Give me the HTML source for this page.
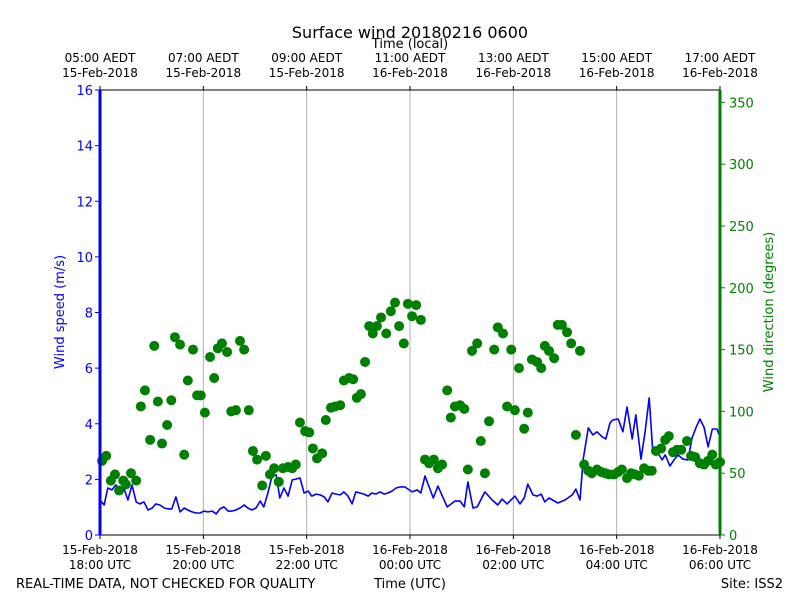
<!DOCTYPE html>
<html><head><meta charset="utf-8"><style>
body{margin:0;background:#fff}
svg{display:block;font-family:"DejaVu Sans","Liberation Sans",sans-serif}
</style></head><body>
<svg id="chart" width="800" height="600" xmlns="http://www.w3.org/2000/svg">
<rect width="800" height="600" fill="#fff"/>
<text x="410" y="38" font-size="16" text-anchor="middle">Surface wind 20180216 0600</text>
<text x="410" y="48" font-size="13" text-anchor="middle">Time (local)</text>
<text x="410" y="588" font-size="13" text-anchor="middle">Time (UTC)</text>
<text x="16" y="588" font-size="13">REAL-TIME DATA, NOT CHECKED FOR QUALITY</text>
<text x="783" y="588" font-size="13" text-anchor="end">Site: ISS2</text>
<text transform="translate(64,312) rotate(-90)" font-size="13" fill="#0000ff" text-anchor="middle">Wind speed (m/s)</text>
<text transform="translate(773,312) rotate(-90)" font-size="13" fill="#008000" text-anchor="middle">Wind direction (degrees)</text>
<g id="grid"></g><g id="marks"></g><g id="axes"></g>
</svg>
<script>
const bottomTicks=[["15-Feb-2018","18:00 UTC"],["15-Feb-2018","20:00 UTC"],["15-Feb-2018","22:00 UTC"],["16-Feb-2018","00:00 UTC"],["16-Feb-2018","02:00 UTC"],["16-Feb-2018","04:00 UTC"],["16-Feb-2018","06:00 UTC"]];
const topTicks=["05:00 AEDT","07:00 AEDT","09:00 AEDT","11:00 AEDT","13:00 AEDT","15:00 AEDT","17:00 AEDT"];
const speedTicks=[0,2,4,6,8,10,12,14,16];
const dirTicks=[0,50,100,150,200,250,300,350];
const speedHours=[0,0.08,0.15,0.23,0.31,0.39,0.46,0.54,0.62,0.70,0.77,0.85,0.93,1.01,1.08,1.16,1.24,1.32,1.39,1.47,1.55,1.63,1.70,1.78,1.86,1.94,2.01,2.09,2.17,2.25,2.32,2.40,2.48,2.55,2.63,2.71,2.79,2.86,2.94,3.02,3.10,3.17,3.25,3.33,3.41,3.48,3.56,3.64,3.72,3.79,3.87,3.95,4.03,4.10,4.18,4.26,4.34,4.41,4.49,4.57,4.65,4.72,4.80,4.88,4.95,5.03,5.11,5.19,5.26,5.34,5.42,5.50,5.57,5.65,5.73,5.81,5.90,6.04,6.14,6.21,6.29,6.45,6.54,6.72,6.87,6.97,7.05,7.12,7.22,7.30,7.45,7.59,7.70,7.78,7.88,8.03,8.13,8.21,8.28,8.38,8.46,8.54,8.61,8.69,8.86,9.00,9.14,9.21,9.29,9.35,9.45,9.54,9.62,9.72,9.79,9.87,9.93,10.03,10.12,10.20,10.30,10.37,10.47,10.55,10.63,10.70,10.80,10.88,10.94,11.03,11.11,11.19,11.28,11.38,11.46,11.54,11.61,11.69,11.77,11.85,11.94,12.00];
const speedValues=[1.26,1.08,1.69,1.62,1.80,1.55,1.69,1.26,1.80,1.19,1.12,1.19,0.90,0.97,1.12,1.08,0.97,0.94,0.94,1.37,0.83,0.97,0.90,0.83,0.79,0.79,0.86,0.83,0.86,0.76,0.94,1.01,0.86,0.86,0.90,0.97,1.08,0.97,0.90,0.97,1.22,1.01,1.51,2.12,2.16,1.33,1.69,1.40,1.98,2.01,2.05,1.51,1.58,1.40,1.47,1.44,1.37,1.19,1.51,1.47,1.44,1.55,1.40,1.12,1.55,1.51,1.47,1.40,1.51,1.47,1.55,1.47,1.51,1.58,1.69,1.73,1.73,1.55,1.62,1.51,2.12,1.33,1.76,1.01,1.22,1.22,1.01,1.91,0.97,1.01,1.55,1.26,1.08,1.29,1.12,1.40,1.12,1.33,1.83,1.44,1.40,1.47,1.19,1.33,1.15,1.26,1.44,1.65,1.26,2.70,3.85,3.60,3.71,3.53,3.45,4.03,4.14,4.17,3.71,4.60,3.45,4.32,2.73,3.71,4.93,2.99,2.95,2.70,2.88,2.48,2.70,2.88,2.73,2.70,3.49,3.88,4.17,3.88,3.17,3.81,3.81,3.53];
const dirHours=[0.04,0.12,0.21,0.29,0.37,0.45,0.50,0.60,0.70,0.79,0.87,0.97,1.05,1.12,1.20,1.30,1.38,1.45,1.55,1.63,1.70,1.80,1.88,1.95,2.03,2.13,2.21,2.28,2.36,2.46,2.54,2.63,2.71,2.79,2.88,2.96,3.04,3.14,3.21,3.29,3.37,3.46,3.54,3.64,3.72,3.79,3.87,3.97,4.05,4.12,4.20,4.30,4.37,4.47,4.55,4.65,4.72,4.82,4.90,4.97,5.05,5.13,5.21,5.28,5.36,5.44,5.54,5.63,5.71,5.79,5.88,5.96,6.04,6.12,6.21,6.29,6.37,6.46,6.54,6.62,6.72,6.79,6.87,6.97,7.05,7.12,7.20,7.30,7.37,7.45,7.53,7.63,7.70,7.80,7.88,7.96,8.03,8.11,8.21,8.28,8.36,8.46,8.54,8.61,8.69,8.79,8.86,8.94,9.04,9.12,9.21,9.29,9.37,9.45,9.52,9.62,9.70,9.78,9.85,9.95,10.03,10.10,10.20,10.28,10.35,10.43,10.53,10.61,10.68,10.76,10.86,10.94,11.01,11.09,11.17,11.25,11.36,11.44,11.52,11.61,11.69,11.77,11.85,11.92,12.00];
const dirValues=[60,64,44,49,36,44,41,50,44,104,117,77,153,108,74,89,109,160,154,65,125,150,113,113,99,144,127,151,155,148,100,101,157,150,101,68,61,40,64,49,54,43,54,55,54,57,91,84,83,70,62,66,93,103,104,105,125,127,126,111,114,140,169,163,169,176,163,181,188,169,155,187,177,186,174,61,58,61,54,57,117,95,104,105,102,53,149,155,76,50,92,150,168,163,104,150,101,135,86,99,142,140,135,153,149,143,170,170,164,155,81,149,57,52,50,53,51,50,49,49,51,53,46,50,49,48,54,52,52,68,70,77,80,67,69,69,76,64,63,58,57,60,65,57,59];

const L=100,R=720,T=90,B=535;
const xS=h=>L+(R-L)*h/12;
const ySpd=v=>B-(B-T)*v/16;
const yDir=d=>B-(B-T)*d/360;
const NS="http://www.w3.org/2000/svg";
function mk(tag,attrs,parent,txt){const e=document.createElementNS(NS,tag);for(const k in attrs)e.setAttribute(k,attrs[k]);if(txt!==undefined)e.textContent=txt;parent.appendChild(e);return e;}
const grid=document.getElementById('grid'),marks=document.getElementById('marks'),axes=document.getElementById('axes');

bottomTicks.forEach((t,i)=>{
  const x=xS(i*2);
  if(i>0&&i<6){const g=mk('line',{x1:x,x2:x,y1:T,y2:B,stroke:'#b0b0b0','stroke-width':1},grid);
  
  }
  const tk=mk('line',{x1:x,x2:x,y1:B,y2:B+4,stroke:'#000'},axes);
  
  
  const lb=mk('text',{x:x,y:B+19,'font-size':12,'text-anchor':'middle'},axes);
  
  
  mk('tspan',{x:x},lb,t[0]);mk('tspan',{x:x,dy:15},lb,t[1]);
  const tt=mk('line',{x1:x,x2:x,y1:T,y2:T-4,stroke:'#000'},axes);
  
  
  const tl=mk('text',{x:x,y:T-28,'font-size':12,'text-anchor':'middle'},axes);
  
  
  mk('tspan',{x:x},tl,topTicks[i]);mk('tspan',{x:x,dy:15},tl,bottomTicks[i][0]);
});

let d='';
speedHours.forEach((h,i)=>{d+=(i?'L':'M')+xS(h).toFixed(1)+','+ySpd(speedValues[i]).toFixed(1);});
const line=mk('path',{d:d,fill:'none',stroke:'#0000ff','stroke-width':1.6,'stroke-linejoin':'round'},marks);



dirHours.forEach((h,i)=>{
  const c=mk('circle',{cx:xS(h),cy:yDir(dirValues[i]),r:5,fill:'#008000'},marks);
  
  
});

const fr1=mk('line',{x1:L,x2:R,y1:T,y2:T,stroke:'#000','stroke-width':1},axes);


const fr2=mk('line',{x1:L,x2:R,y1:B,y2:B,stroke:'#000','stroke-width':1},axes);


const ls=mk('line',{x1:L,x2:L,y1:T,y2:B,stroke:'#0000ff','stroke-width':3},axes);


const rs=mk('line',{x1:R,x2:R,y1:T,y2:B,stroke:'#008000','stroke-width':3},axes);



speedTicks.forEach(v=>{
  const y=ySpd(v);
  const t=mk('line',{x1:L-5,x2:L,y1:y,y2:y,stroke:'#0000ff','stroke-width':1},axes);
  
  
  const l=mk('text',{x:L-7,y:y+5,'font-size':13,'text-anchor':'end',fill:'#0000ff'},axes,String(v));
  
  
});
dirTicks.forEach(v=>{
  const y=yDir(v);
  const t=mk('line',{x1:R,x2:R+5,y1:y,y2:y,stroke:'#008000','stroke-width':1},axes);
  
  
  const l=mk('text',{x:R+9,y:y+5,'font-size':13,fill:'#008000'},axes,String(v));
  
  
});
</script>
</body></html>
